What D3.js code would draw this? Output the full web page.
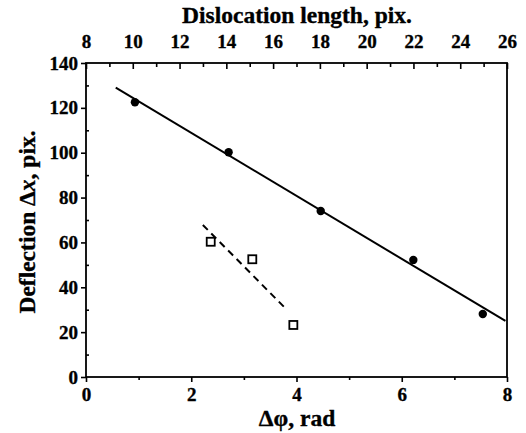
<!DOCTYPE html>
<html>
<head>
<meta charset="utf-8">
<script src="https://cdn.jsdelivr.net/npm/d3@7"></script>
<style>
  html, body { margin: 0; padding: 0; background: #fff; }
  svg { display: block; }
  text { font-family: "Liberation Serif", "Times New Roman", serif; font-weight: bold; fill: #000; stroke: #000; stroke-width: 0.35px; }
</style>
</head>
<body>
<svg id="chart" width="526" height="433"></svg>
<script>
// ---- data ----
const filledX = [0.93, 2.71, 4.46, 6.22, 7.54];
const filledY = [122.5, 100.2, 74.0, 52.2, 28.1];
const fitX = [0.565, 7.97];
const fitY = [129.0, 25.0];
const openX = [2.37, 3.16, 3.94];
const openY = [60.3, 52.5, 23.2];
const dashX = [2.22, 3.82];
const dashY = [67.8, 29.9];
const xTicks = [0, 2, 4, 6, 8];
const xMinor = [1, 3, 5, 7];
const topTicks = [8, 10, 12, 14, 16, 18, 20, 22, 24, 26];
const topMinor = [9, 11, 13, 15, 17, 19, 21, 23, 25];
const yTicks = [0, 20, 40, 60, 80, 100, 120, 140];
const yMinor = [10, 30, 50, 70, 90, 110, 130];

// ---- layout ----
const L = 86, R = 507, T = 63, B = 377;
const svg = d3.select("#chart");
const x = d3.scaleLinear().domain([0, 8]).range([L, R]);
const xTop = d3.scaleLinear().domain([8, 26]).range([L, R]);
const y = d3.scaleLinear().domain([0, 140]).range([B, T]);
const FS = 19;
const TFS = "23.5px";

function styleAxis(g) {
  g.attr("font-family", "Liberation Serif, serif").attr("font-size", FS).attr("font-weight", "bold");
  g.selectAll(".domain").remove();
  g.selectAll(".tick line").attr("stroke", "#000").attr("stroke-width", 1.6);
  g.selectAll(".tick text").attr("font-size", FS).attr("font-weight", "bold").attr("fill", "#000");
}

// bottom axis
const gb = svg.append("g").attr("transform", `translate(0,${B})`)
  .call(d3.axisBottom(x).tickValues(xTicks).tickSize(5).tickPadding(6).tickFormat(d3.format("d")));
styleAxis(gb);
const gbm = svg.append("g").attr("transform", `translate(0,${B})`)
  .call(d3.axisBottom(x).tickValues(xMinor).tickSize(3).tickFormat(""));
styleAxis(gbm);

// top axis (inward ticks)
const gt = svg.append("g").attr("transform", `translate(0,${T})`)
  .call(d3.axisTop(xTop).tickValues(topTicks).tickSize(-6).tickPadding(15).tickFormat(d3.format("d")));
styleAxis(gt);
const gtm = svg.append("g").attr("transform", `translate(0,${T})`)
  .call(d3.axisTop(xTop).tickValues(topMinor).tickSize(-4).tickFormat(""));
styleAxis(gtm);

// left axis
const gl = svg.append("g").attr("transform", `translate(${L},0)`)
  .call(d3.axisLeft(y).tickValues(yTicks).tickSize(5).tickPadding(3).tickFormat(d3.format("d")));
styleAxis(gl);
const glm = svg.append("g").attr("transform", `translate(${L},0)`)
  .call(d3.axisLeft(y).tickValues(yMinor).tickSize(-3).tickFormat(""));
styleAxis(glm);

// frame
svg.append("rect").attr("x", L).attr("y", T).attr("width", R - L).attr("height", B - T)
  .attr("fill", "none").attr("stroke", "#000").attr("stroke-width", 1.8);

// fit lines
const line = d3.line().x(d => x(d[0])).y(d => y(d[1]));
svg.append("path").datum(d3.zip(fitX, fitY)).attr("d", line)
  .attr("fill", "none").attr("stroke", "#000").attr("stroke-width", 2);
svg.append("path").datum(d3.zip(dashX, dashY)).attr("d", line)
  .attr("fill", "none").attr("stroke", "#000").attr("stroke-width", 2)
  .attr("stroke-dasharray", "7,5");

// filled circles
svg.append("g").selectAll("circle").data(d3.zip(filledX, filledY)).join("circle")
  .attr("cx", d => x(d[0])).attr("cy", d => y(d[1])).attr("r", 4.2).attr("fill", "#000");

// open squares
const s = 8;
svg.append("g").selectAll("rect").data(d3.zip(openX, openY)).join("rect")
  .attr("x", d => x(d[0]) - s / 2).attr("y", d => y(d[1]) - s / 2)
  .attr("width", s).attr("height", s).attr("fill", "#fff")
  .attr("stroke", "#000").attr("stroke-width", 1.8);

// titles
svg.append("text").attr("x", 297).attr("y", 23).attr("text-anchor", "middle")
  .style("font-size", TFS).text("Dislocation length, pix.");
svg.append("text").attr("x", 297).attr("y", 426).attr("text-anchor", "middle")
  .style("font-size", TFS).text("Δφ, rad");
const yt = svg.append("text").attr("transform", "translate(35,222) rotate(-90)")
  .attr("text-anchor", "middle").style("font-size", TFS);
yt.append("tspan").text("Deflection Δ");
yt.append("tspan").style("font-style", "italic").text("x");
yt.append("tspan").text(", pix.");
</script>
</body>
</html>
